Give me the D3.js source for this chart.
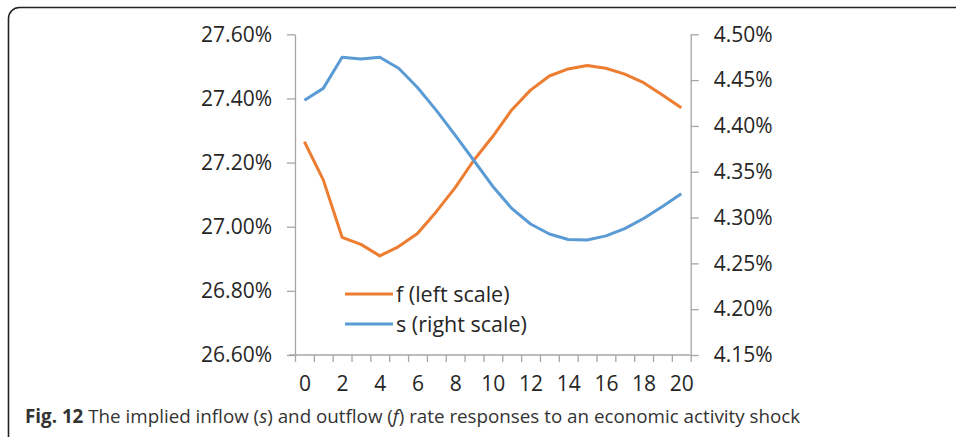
<!DOCTYPE html>
<html>
<head>
<meta charset="utf-8">
<script src="https://cdn.jsdelivr.net/npm/d3@7"></script>
<style>
  html, body { margin: 0; padding: 0; background: #fff; }
  svg { display: block; }
</style>
</head>
<body>
<svg id="chart" width="956" height="437"></svg>
<script>
// ---- data ----
const periods = d3.range(0, 21);
const fValues = [27.265, 27.146, 26.967, 26.945, 26.909, 26.938, 26.979, 27.047, 27.122, 27.208,
                 27.282, 27.364, 27.426, 27.470, 27.492, 27.503, 27.494, 27.476, 27.449, 27.411, 27.371];
const sValues = [4.428, 4.441, 4.475, 4.473, 4.475, 4.463, 4.442, 4.417, 4.390, 4.362,
                 4.334, 4.310, 4.293, 4.282, 4.276, 4.2755, 4.280, 4.288, 4.299, 4.312, 4.326];
const leftTicks = [26.60, 26.80, 27.00, 27.20, 27.40, 27.60];
const rightTicks = [4.15, 4.20, 4.25, 4.30, 4.35, 4.40, 4.45, 4.50];
const xLabels = [0, 2, 4, 6, 8, 10, 12, 14, 16, 18, 20];
const seriesNames = ["f (left scale)", "s (right scale)"];
// caption pieces: [text, style]
const captionParts = [
  ["Fig. 12", "bold"],
  [" The implied inflow (", ""],
  ["s", "italic"],
  [") and outflow (", ""],
  ["f", "italic"],
  [") rate responses to an economic activity shock", ""]
];

// ---- layout ----
const svg = d3.select("#chart");
const L = 295, R = 690.7, T = 34.3, B = 355;
const axisColor = "#a6a6a6";
const textColor = "#262626";
const orange = "#ED7D31", blue = "#5B9BD5";
const font = "'Open Sans', sans-serif";

// frame
svg.append("rect")
  .attr("x", 8.5).attr("y", 7.5)
  .attr("width", 1000).attr("height", 460)
  .attr("rx", 11).attr("ry", 11)
  .attr("fill", "none").attr("stroke", "#222").attr("stroke-width", 1.6);

const x = d3.scaleLinear().domain([-0.5, 20.5]).range([L, R]);
const yL = d3.scaleLinear().domain([26.60, 27.60]).range([B, T]);
const yR = d3.scaleLinear().domain([4.15, 4.50]).range([B, T]);

function styleAxis(g) {
  g.selectAll(".domain").attr("stroke", axisColor).attr("stroke-width", 1.3);
  g.selectAll(".tick line").attr("stroke", axisColor).attr("stroke-width", 1.3);
  g.selectAll("text").attr("fill", textColor).attr("font-family", font);
}

// left axis
const gL = svg.append("g").attr("transform", `translate(${L},0)`)
  .call(d3.axisLeft(yL).tickValues(leftTicks).tickSize(8).tickSizeOuter(0).tickPadding(15)
    .tickFormat(d => d.toFixed(2) + "%"));
styleAxis(gL);
gL.selectAll("text").attr("font-size", 21);

// right axis
const gR = svg.append("g").attr("transform", `translate(${R},0)`)
  .call(d3.axisRight(yR).tickValues(rightTicks).tickSize(8).tickSizeOuter(0).tickPadding(15)
    .tickFormat(d => d.toFixed(2) + "%"));
styleAxis(gR);
gR.selectAll("text").attr("font-size", 21);

// bottom axis (ticks at category boundaries)
const boundaries = d3.range(-0.5, 21, 1);
const gB = svg.append("g").attr("transform", `translate(0,${B})`)
  .call(d3.axisBottom(x).tickValues(boundaries).tickSize(7).tickSizeOuter(0).tickFormat(""));
styleAxis(gB);
gB.select(".domain").attr("d", `M${L - 6},0H${R}`);

// bottom labels
const gBL = svg.append("g").attr("transform", `translate(0,${B})`)
  .call(d3.axisBottom(x).tickValues(xLabels).tickSize(0).tickPadding(21).tickFormat(d3.format("d")));
gBL.select(".domain").remove();
gBL.selectAll("text").attr("fill", textColor).attr("font-family", font).attr("font-size", 21);

// lines
const lineF = d3.line().x((d, i) => x(periods[i])).y(d => yL(d));
const lineS = d3.line().x((d, i) => x(periods[i])).y(d => yR(d));
svg.append("path").datum(fValues).attr("d", lineF)
  .attr("fill", "none").attr("stroke", orange).attr("stroke-width", 3).attr("stroke-linejoin", "round");
svg.append("path").datum(sValues).attr("d", lineS)
  .attr("fill", "none").attr("stroke", blue).attr("stroke-width", 3).attr("stroke-linejoin", "round");

// legend
const legend = svg.append("g").attr("transform", "translate(345,294)");
[orange, blue].forEach((c, i) => {
  const g = legend.append("g").attr("transform", `translate(0,${i * 30})`);
  g.append("line").attr("x1", 0).attr("x2", 48).attr("y1", 0).attr("y2", 0)
    .attr("stroke", c).attr("stroke-width", 3);
  g.append("text").attr("x", 51).attr("y", 0).attr("dy", "0.35em")
    .attr("fill", textColor).attr("font-family", font).attr("font-size", 21.5)
    .text(seriesNames[i]);
});

// caption
const cap = svg.append("text").attr("x", 25).attr("y", 423)
  .attr("font-family", font).attr("font-size", 18.8).attr("fill", "#333");
captionParts.forEach(([t, s]) => {
  const ts = cap.append("tspan").text(t);
  if (s === "bold") ts.attr("font-weight", "bold");
  if (s === "italic") ts.attr("font-style", "italic");
});
</script>
</body>
</html>
